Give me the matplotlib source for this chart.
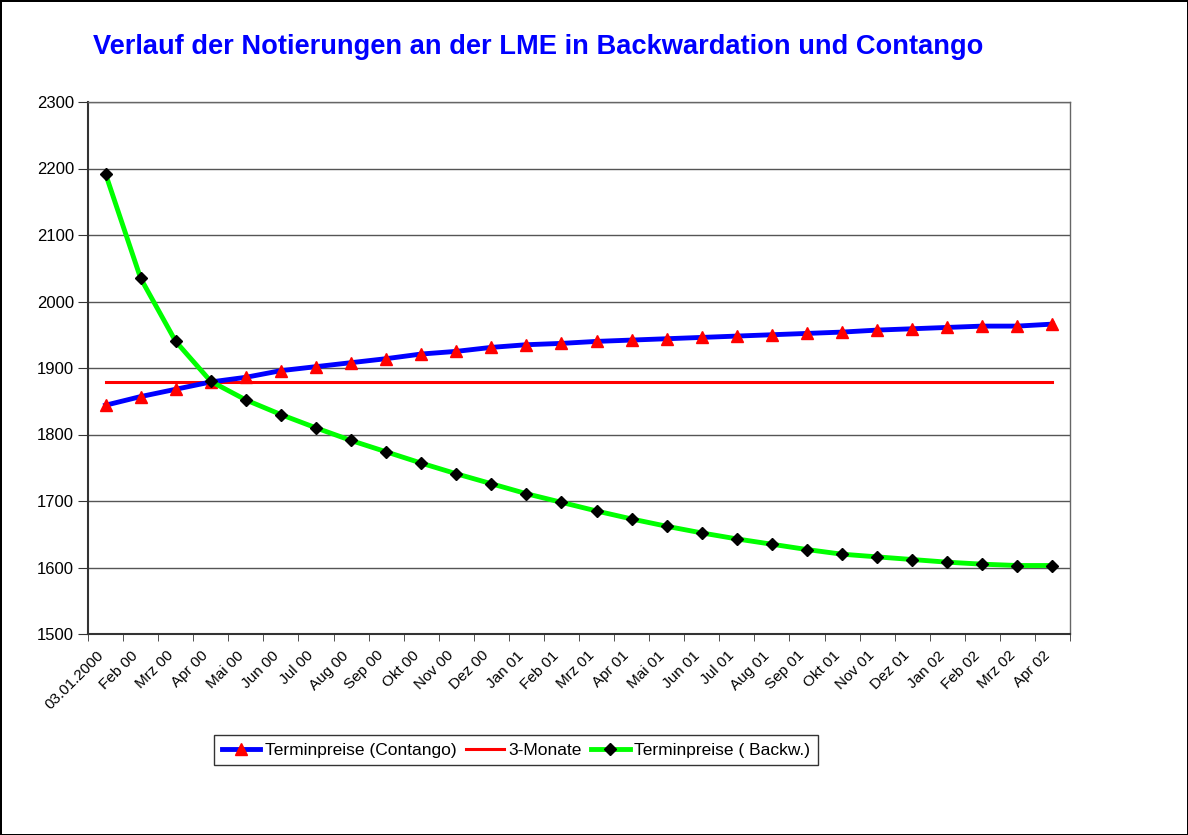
import matplotlib.pyplot as plt
import matplotlib.transforms as mtransforms
import numpy as np

# Kategorien (Monate)
labels = ["03.01.2000", "Feb 00", "Mrz 00", "Apr 00", "Mai 00", "Jun 00", "Jul 00",
          "Aug 00", "Sep 00", "Okt 00", "Nov 00", "Dez 00", "Jan 01", "Feb 01",
          "Mrz 01", "Apr 01", "Mai 01", "Jun 01", "Jul 01", "Aug 01", "Sep 01",
          "Okt 01", "Nov 01", "Dez 01", "Jan 02", "Feb 02", "Mrz 02", "Apr 02"]

contango = [1844, 1857, 1868, 1879, 1886, 1896, 1902, 1908, 1914, 1921, 1925,
            1931, 1935, 1937, 1940, 1942, 1944, 1946, 1948, 1950, 1952, 1954,
            1957, 1959, 1961, 1963, 1963, 1966]
drei_monate = [1879] * 28
backw = [2192, 2035, 1940, 1880, 1852, 1830, 1810, 1791, 1774, 1757, 1741,
         1726, 1711, 1698, 1685, 1673, 1662, 1652, 1643, 1635, 1627, 1620,
         1616, 1612, 1608, 1605, 1603, 1603]

plt.rcParams['font.family'] = ['Liberation Sans', 'DejaVu Sans']

fig = plt.figure(figsize=(11.88, 8.35), dpi=100)
fig.patch.set_edgecolor("black")
fig.patch.set_linewidth(2)

ax = fig.add_axes([88/1188, 1 - 634/835, (1070 - 88)/1188, (634 - 102)/835])

x = np.arange(len(labels))
ax.plot(x, contango, color="#0000ff", lw=3.5, marker="^", ms=9,
        mfc="#ff0000", mec="#ff0000", label="Terminpreise (Contango)", zorder=3)
ax.plot(x, drei_monate, color="#ff0000", lw=2.2, label="3-Monate", zorder=2)
ax.plot(x, backw, color="#00ff00", lw=3.5, marker="D", ms=6.5,
        mfc="black", mec="black", label="Terminpreise ( Backw.)", zorder=4)

ax.set_xlim(-0.5, len(labels) - 0.5)
ax.set_ylim(1500, 2300)
ax.set_yticks(np.arange(1500, 2301, 100))
ax.yaxis.grid(True, color="#555555", lw=1)
ax.set_axisbelow(True)

ax.set_xticks(x)
ax.set_xticklabels(labels, rotation=45, ha="right", va="center",
                   rotation_mode="anchor", fontsize=11)
ax.set_xticks(np.arange(-0.5, len(labels), 1), minor=True)
ax.tick_params(axis="x", which="major", length=0, pad=11)
ax.tick_params(axis="x", which="minor", length=5, color="#333333")
ax.tick_params(axis="y", length=7, color="#333333", labelsize=12, pad=3)

# Beschriftungen etwas nach links unten schieben
shift = mtransforms.ScaledTranslation(-0.045, -0.04, fig.dpi_scale_trans)
for lab in ax.get_xticklabels():
    lab.set_transform(lab.get_transform() + shift)

for s in ["left", "bottom"]:
    ax.spines[s].set_color("#333333")
    ax.spines[s].set_linewidth(1.5)
for s in ["top", "right"]:
    ax.spines[s].set_color("#666666")
    ax.spines[s].set_linewidth(1)

fig.text(538/1188, 1 - 47/835, "Verlauf der Notierungen an der LME in Backwardation und Contango",
         ha="center", va="center", fontsize=19.6, fontweight="bold", color="#0000ff")

leg = fig.legend(loc="center", bbox_to_anchor=(516/1188, 1 - 750/835), ncol=3,
                 fontsize=12.5, frameon=True, fancybox=False, edgecolor="black",
                 handlelength=2.2, columnspacing=0.55, handletextpad=0.25,
                 borderpad=0.45, borderaxespad=0)
leg.get_frame().set_linewidth(1)

fig.savefig("out.png", dpi=100, edgecolor=fig.get_edgecolor())
